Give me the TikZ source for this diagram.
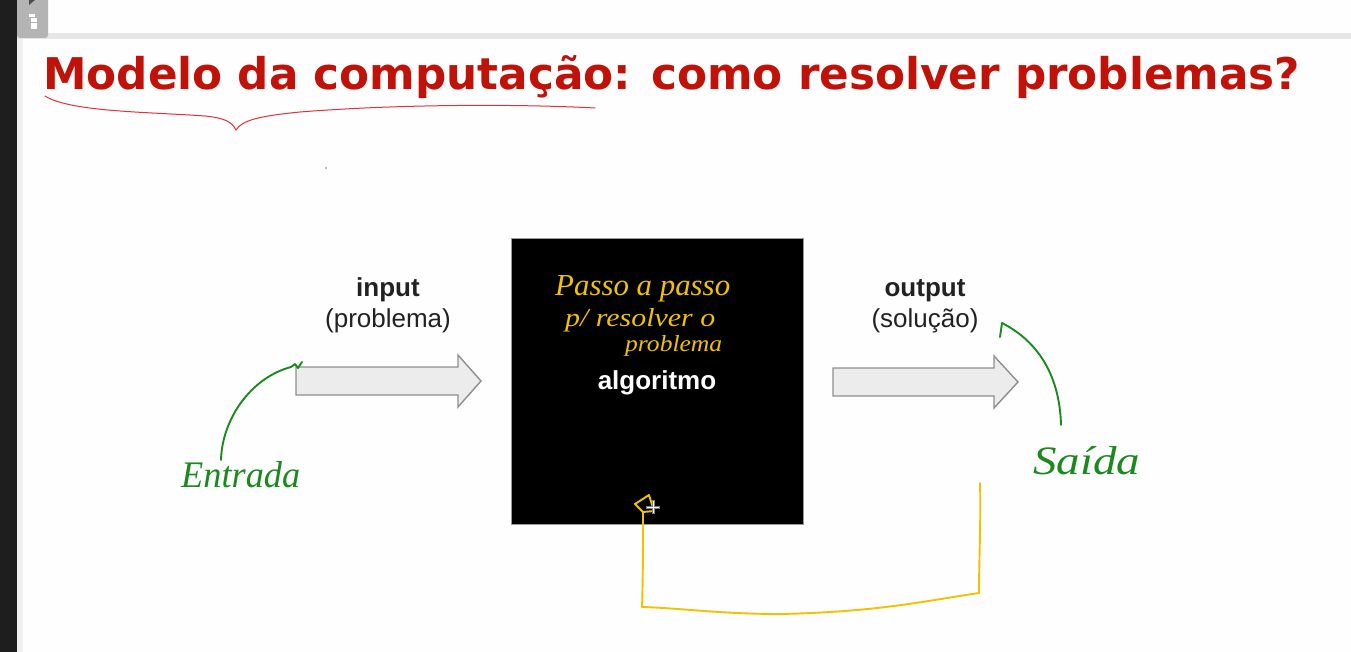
\documentclass[tikz,border=0pt]{standalone}
\usepackage{fontspec}
\setmainfont{Liberation Sans}
\newfontfamily\titlefont{DejaVu Sans}
\newfontfamily\handfont{Liberation Serif}
\definecolor{slidebg}{HTML}{FEFEFE}
\definecolor{framedark}{HTML}{1E1E1E}
\definecolor{framelight}{HTML}{F0F0F0}
\definecolor{tabgray}{HTML}{B4B4B4}
\definecolor{rulegray}{HTML}{E6E6E6}
\definecolor{titlered}{HTML}{C01208}
\definecolor{textgray}{HTML}{222222}
\definecolor{arrowfill}{HTML}{ECECEC}
\definecolor{arrowline}{HTML}{8E8E8E}
\definecolor{boxline}{HTML}{9A9A9A}
\definecolor{inkgreen}{HTML}{1A8A1E}
\definecolor{inkyellow}{HTML}{F2C200}
\definecolor{inkred}{HTML}{E0303A}
\begin{document}
\begin{tikzpicture}[x=1pt,y=-1pt,
  slidetext/.style={text=textgray, font=\fontsize{26}{30}\selectfont, inner sep=0pt},
  flowarrow/.style={fill=arrowfill, draw=arrowline, line width=1.4pt, line join=miter},
  ink/.style={line width=1.9pt, line cap=round, line join=round},
  handtext/.style={font=\handfont\itshape\fontsize{30}{34}\selectfont, inner sep=0pt, anchor=base west}]

% page and viewer frame
\fill[slidebg] (0,0) rectangle (1351,652);
\useasboundingbox (0,0) rectangle (1351,652);
\fill[rulegray] (17,33) rectangle (1351,39);
\fill[framedark] (0,0) rectangle (17,652);
\fill[framelight] (17,39) rectangle (23,652);
\fill[tabgray, rounded corners=3pt] (17,-5) -- (48,-5) -- (48,38) -- (17,38) -- cycle;
\fill[black!70] (29,0) -- (35,0) -- (29,5) -- cycle;
\fill[white] (29,14) rectangle (35,17);
\fill[white] (31,18) rectangle (37,22);
\fill[white] (31,23) rectangle (37,29);
\fill[gray] (326,168) circle (0.9pt);

% title
\node[anchor=base west, inner sep=0pt, text=titlered, font=\titlefont\bfseries\fontsize{44}{50}\selectfont]
  (title) at (43,90) {\resizebox{1257pt}{!}{Modelo da computação: como resolver problemas?}};

% central block
\node[draw=boxline, line width=1pt, fill=black, minimum width=292pt, minimum height=286pt,
  anchor=north west, inner sep=0pt] (algo) at (511,238) {};
\node[slidetext, text=white, font=\bfseries\fontsize{26}{30}\selectfont, anchor=base] (algolabel) at (657,389) {algoritmo};

% input side
\node[slidetext, font=\bfseries\fontsize{26}{30}\selectfont, anchor=base] (inlabel) at (388,296) {input};
\node[slidetext, anchor=base] (insub) at (388,327) {(problema)};
\draw[flowarrow] (296,367) coordinate (inarrow) -- (458,367) -- (458,355) -- (481,381) -- (458,407)
  -- (458,395) -- (296,395) -- cycle;

% output side
\node[slidetext, font=\bfseries\fontsize{26}{30}\selectfont, anchor=base] (outlabel) at (925,296) {output};
\node[slidetext, anchor=base] (outsub) at (925,327) {(solução)};
\draw[flowarrow] (833,368) -- (994,368) -- (994,356) -- (1018,382) -- (994,408)
  -- (994,396) -- (833,396) -- cycle;

% red brace under the title
\draw[inkred, line width=1pt, line cap=round]
  (45,96) .. controls (70,112) and (150,112) .. (205,116)
  .. controls (225,118) and (232,122) .. (236,130)
  .. controls (242,120) and (260,116) .. (300,112)
  .. controls (400,104) and (520,104) .. (595,108);

% green notes
\node[handtext, text=inkgreen] (entrada) at (181,487) {\resizebox{119pt}{26pt}{Entrada}};
\coordinate (entradatop) at (221,460);
\draw[ink, inkgreen] (entradatop) .. controls (222,420) and (250,378) .. (291,367)
  -- (295,364) -- (298,368) -- (302,362);
\node[handtext, text=inkgreen] (saida) at (1033,474) {\resizebox{107pt}{28pt}{Saída}};
\coordinate (saidatop) at (1061,425);
\draw[ink, inkgreen] (saidatop) .. controls (1060,385) and (1045,345) .. (1002,323)
  -- (1000,337);

% yellow notes
\node[handtext, text=inkyellow] (passo1) at (555,295) {\resizebox{175pt}{20pt}{Passo a passo}};
\node[handtext, text=inkyellow] (passo2) at (565,326) {\resizebox{150pt}{18pt}{p/ resolver o}};
\node[handtext, text=inkyellow] (passo3) at (625,351) {\resizebox{97pt}{16pt}{problema}};
\coordinate (loopstart) at (980,483);
\draw[ink, inkyellow] (loopstart) .. controls (981,520) and (979,560) .. (979,593)
  .. controls (930,600) and (880,612) .. (780,614)
  .. controls (720,614) and (680,608) .. (642,607)
  .. controls (643,580) and (643,540) .. (643,512)
  -- (635,504) -- (649,495) -- (654,511) -- (643,512);

% pointer cursor
\draw[gray, line width=3pt] (646,507) -- (660,507) (653,500) -- (653,514);
\draw[white, line width=1pt] (647,507) -- (659,507) (653,501) -- (653,513);
\end{tikzpicture}
\end{document}
